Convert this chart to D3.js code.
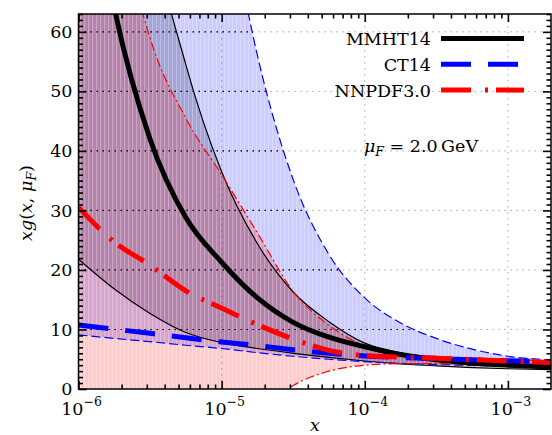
<!DOCTYPE html>
<html>
<head>
<meta charset="utf-8">
<script src="https://cdn.jsdelivr.net/npm/d3@7"></script>
<style>
  body { margin: 0; background: #fff; }
  svg { display: block; font-family: 'DejaVu Serif', serif; }
  .lbl { font-size: 17.5px; fill: #000; }
  .axis line { stroke: #000; stroke-width: 1.6px; }
  .axis .domain { display: none; }
  .axis text { font-family: 'DejaVu Serif', serif; font-size: 17.5px; fill: #000; }
</style>
</head>
<body>
<svg id="chart" width="552" height="435"></svg>
<script>
// x sample points shared by every curve (log spaced)
const xGrid = [1e-6, 1.78e-6, 3.16e-6, 5.62e-6, 1e-5, 1.78e-5, 3.16e-5, 5.62e-5, 1e-4, 1.78e-4, 3.16e-4, 5.62e-4, 1e-3, 2e-3];

// MMHT14
const mmhtCentral = [100, 64, 42, 28.8, 21.3, 15.3, 11.2, 8.7, 7.1, 5.8, 4.9, 4.35, 4.0, 3.7];
const mmhtUpper   = [200, 130, 80, 54.5, 36.5, 24.4, 16.3, 11.3, 7.7, 6.05, 5.35, 4.8, 4.3, 3.95];
const mmhtLower   = [21.8, 16.8, 12.7, 9.5, 7.8, 6.8, 6.0, 5.3, 4.7, 4.2, 3.9, 3.6, 3.4, 3.25];

// CT14
const ctCentral = [10.75, 10.05, 9.35, 8.6, 7.9, 7.3, 6.6, 6.0, 5.55, 5.3, 5.1, 4.9, 4.75, 4.6];
const ctUpper   = [420, 270, 180, 122, 87, 56, 35.2, 22.6, 15.3, 11.1, 8.5, 6.7, 5.5, 4.9];
const ctLower   = [9.1, 8.5, 7.95, 7.35, 6.8, 6.1, 5.5, 5.0, 4.6, 4.3, 4.1, 3.95, 3.8, 3.65];

// NNPDF3.0
const nnCentral = [30.5, 24.7, 20.8, 16.5, 13.6, 10.8, 8.4, 6.5, 5.6, 5.35, 5.15, 4.95, 4.7, 4.45];
const nnUpper   = [140, 85, 59, 45.5, 36, 26.2, 16.4, 10.7, 7.3, 6.0, 5.5, 5.2, 4.95, 4.75];
const nnLower   = [-40, -30, -22, -15, -9, -4, 0.6, 3.0, 4.0, 4.25, 4.25, 4.1, 4.0, 3.9];

const seriesNames = ['MMHT14', 'CT14', 'NNPDF3.0'];
const xTicks = [1e-6, 1e-5, 1e-4, 1e-3];
const xTickExponents = ['\u22126', '\u22125', '\u22124', '\u22123'];
const yTicks = [0, 10, 20, 30, 40, 50, 60];

const plot = {left: 78.5, right: 551, top: 14, bottom: 389};

const pdfs = [
    {name: seriesNames[0], central: mmhtCentral, upper: mmhtUpper, lower: mmhtLower,
     color: '#000000', fill: 'rgba(0,0,0,0.2)', dash: null, thinDash: null},
    {name: seriesNames[1], central: ctCentral, upper: ctUpper, lower: ctLower,
     color: '#0000ff', fill: 'rgba(0,0,255,0.2)', dash: '30,17', thinDash: '9,4'},
    {name: seriesNames[2], central: nnCentral, upper: nnUpper, lower: nnLower,
     color: '#ff0000', fill: 'rgba(255,0,0,0.2)', dash: '30,14,3,8', thinDash: '9,3,2,3'}
];

const x = d3.scaleLog().domain([1e-6, 2e-3]).range([plot.left, plot.right]);
const y = d3.scaleLinear().domain([0, 63]).range([plot.bottom, plot.top]);

const svg = d3.select('#chart');
const defs = svg.append('defs');

defs.append('clipPath').attr('id', 'plotClip')
    .append('rect')
    .attr('x', plot.left).attr('y', plot.top)
    .attr('width', plot.right - plot.left).attr('height', plot.bottom - plot.top);

function line(vals) {
    return d3.line()
        .x(function(d, i) { return x(xGrid[i]); })
        .y(function(d) { return y(d); })
        .curve(d3.curveMonotoneX)(vals);
}
function band(p) {
    return d3.area()
        .x(function(d, i) { return x(xGrid[i]); })
        .y0(function(d, i) { return y(p.lower[i]); })
        .y1(function(d, i) { return y(p.upper[i]); })
        .curve(d3.curveMonotoneX)(xGrid);
}

// union of all bands, used for the stripes and the dark grid
let bandClip = defs.append('clipPath').attr('id', 'bandClip');
pdfs.forEach(function(p) { bandClip.append('path').attr('d', band(p)); });

let pattern = defs.append('pattern').attr('id', 'stripes')
    .attr('patternUnits', 'userSpaceOnUse').attr('width', 4).attr('height', 20);
pattern.append('rect').attr('x', 0).attr('y', 0).attr('width', 1.2).attr('height', 20)
    .attr('fill', '#fff').attr('fill-opacity', 0.28);

const chart = svg.append('g').attr('clip-path', 'url(#plotClip)');

// light grid under everything
const grid = chart.append('g');
grid.selectAll('line.v').data(xTicks.slice(1)).enter().append('line')
    .attr('x1', function(d) { return x(d); }).attr('x2', function(d) { return x(d); })
    .attr('y1', plot.top).attr('y2', plot.bottom)
    .attr('stroke', '#a8a8a8').attr('stroke-width', 1).attr('stroke-dasharray', '1.5,4.5');
grid.selectAll('line.h').data(yTicks.slice(1)).enter().append('line')
    .attr('x1', plot.left).attr('x2', plot.right)
    .attr('y1', function(d) { return y(d); }).attr('y2', function(d) { return y(d); })
    .attr('stroke', '#a8a8a8').attr('stroke-width', 1).attr('stroke-dasharray', '1.5,4.5');

// error bands
chart.selectAll('path.band').data(pdfs).enter().append('path')
    .attr('class', 'band')
    .attr('d', band)
    .attr('fill', function(d) { return d.fill; });

const inBands = chart.append('g').attr('clip-path', 'url(#bandClip)');
inBands.append('rect')
    .attr('x', plot.left).attr('y', plot.top)
    .attr('width', plot.right - plot.left).attr('height', plot.bottom - plot.top)
    .attr('fill', 'url(#stripes)');
inBands.selectAll('line.h').data(yTicks.slice(1)).enter().append('line')
    .attr('x1', plot.left).attr('x2', plot.right)
    .attr('y1', function(d) { return y(d); }).attr('y2', function(d) { return y(d); })
    .attr('stroke', '#000').attr('stroke-width', 1.2).attr('stroke-dasharray', '1.5,4.5');

// band edges
pdfs.forEach(function(p) {
    [p.upper, p.lower].forEach(function(vals) {
        chart.append('path')
            .attr('d', line(vals))
            .attr('fill', 'none')
            .attr('stroke', p.color)
            .attr('stroke-width', 1.2)
            .attr('stroke-dasharray', p.thinDash);
    });
});

// central values
pdfs.forEach(function(p) {
    chart.append('path')
        .attr('d', line(p.central))
        .attr('fill', 'none')
        .attr('stroke', p.color)
        .attr('stroke-width', 5)
        .attr('stroke-dasharray', p.dash);
});

// ticks (inside, all four sides)
let minorX = [];
xTicks.forEach(function(t) {
    for (let k = 2; k <= 9; k++) {
        if (t * k < 2e-3) { minorX.push(t * k); }
    }
});
let minorY = d3.range(0, 64).filter(function(v) { return v % 10 !== 0; });

svg.append('g').attr('class', 'axis').attr('transform', 'translate(0,' + plot.bottom + ')')
    .call(d3.axisBottom(x).tickValues(xTicks).tickSize(-8).tickSizeOuter(0).tickFormat(''));
svg.append('g').attr('class', 'axis').attr('transform', 'translate(0,' + plot.bottom + ')')
    .call(d3.axisBottom(x).tickValues(minorX).tickSize(-4.5).tickSizeOuter(0).tickFormat(''));
svg.append('g').attr('class', 'axis').attr('transform', 'translate(0,' + plot.top + ')')
    .call(d3.axisTop(x).tickValues(xTicks).tickSize(-8).tickSizeOuter(0).tickFormat(''));
svg.append('g').attr('class', 'axis').attr('transform', 'translate(0,' + plot.top + ')')
    .call(d3.axisTop(x).tickValues(minorX).tickSize(-4.5).tickSizeOuter(0).tickFormat(''));

svg.append('g').attr('class', 'axis').attr('transform', 'translate(' + plot.left + ',0)')
    .call(d3.axisLeft(y).tickValues(yTicks).tickSize(-8).tickSizeOuter(0).tickPadding(6));
svg.append('g').attr('class', 'axis').attr('transform', 'translate(' + plot.left + ',0)')
    .call(d3.axisLeft(y).tickValues(minorY).tickSize(-4.5).tickSizeOuter(0).tickFormat(''));
svg.append('g').attr('class', 'axis').attr('transform', 'translate(' + plot.right + ',0)')
    .call(d3.axisRight(y).tickValues(yTicks).tickSize(-8).tickSizeOuter(0).tickFormat(''));
svg.append('g').attr('class', 'axis').attr('transform', 'translate(' + plot.right + ',0)')
    .call(d3.axisRight(y).tickValues(minorY).tickSize(-4.5).tickSizeOuter(0).tickFormat(''));

// frame
svg.append('rect')
    .attr('x', plot.left).attr('y', plot.top)
    .attr('width', plot.right - plot.left).attr('height', plot.bottom - plot.top)
    .attr('fill', 'none').attr('stroke', '#000').attr('stroke-width', 1.5);

// x tick labels 10^n
xTicks.forEach(function(t, i) {
    let txt = svg.append('text').attr('class', 'lbl')
        .attr('x', x(t) + 3).attr('y', 415).attr('text-anchor', 'middle');
    txt.append('tspan').text('10');
    txt.append('tspan').attr('dy', -9).style('font-size', '12.5px').text(xTickExponents[i]);
});

// axis titles
svg.append('text').attr('class', 'lbl')
    .attr('x', 315).attr('y', 431).attr('text-anchor', 'middle')
    .style('font-style', 'italic').text('x');

let ylab = svg.append('text').attr('class', 'lbl')
    .attr('transform', 'translate(32,203) rotate(-90)').attr('text-anchor', 'middle');
ylab.append('tspan').style('font-style', 'italic').text('xg');
ylab.append('tspan').text('(');
ylab.append('tspan').style('font-style', 'italic').text('x');
ylab.append('tspan').text(', ');
ylab.append('tspan').style('font-style', 'italic').text('\u03bc');
ylab.append('tspan').style('font-style', 'italic').style('font-size', '12.5px').attr('dy', 4).text('F');
ylab.append('tspan').attr('dy', -4).text(')');

// scale annotation
let mu = svg.append('text').attr('class', 'lbl')
    .attr('x', 421).attr('y', 152).attr('text-anchor', 'middle');
mu.append('tspan').style('font-style', 'italic').text('\u03bc');
mu.append('tspan').style('font-style', 'italic').style('font-size', '12.5px').attr('dy', 4).text('F');
mu.append('tspan').attr('dy', -4).text(' = 2.0\u2009GeV');

// legend
const legend = svg.append('g');
pdfs.forEach(function(p, i) {
    let ly = 38.5 + i * 25.8;
    legend.append('line')
        .attr('x1', 441).attr('x2', 524).attr('y1', ly).attr('y2', ly)
        .attr('stroke', p.color).attr('stroke-width', 5)
        .attr('stroke-dasharray', p.dash);
    legend.append('text').attr('class', 'lbl')
        .attr('x', 431).attr('y', ly + 6.5).attr('text-anchor', 'end')
        .text(p.name);
});
</script>
</body>
</html>
